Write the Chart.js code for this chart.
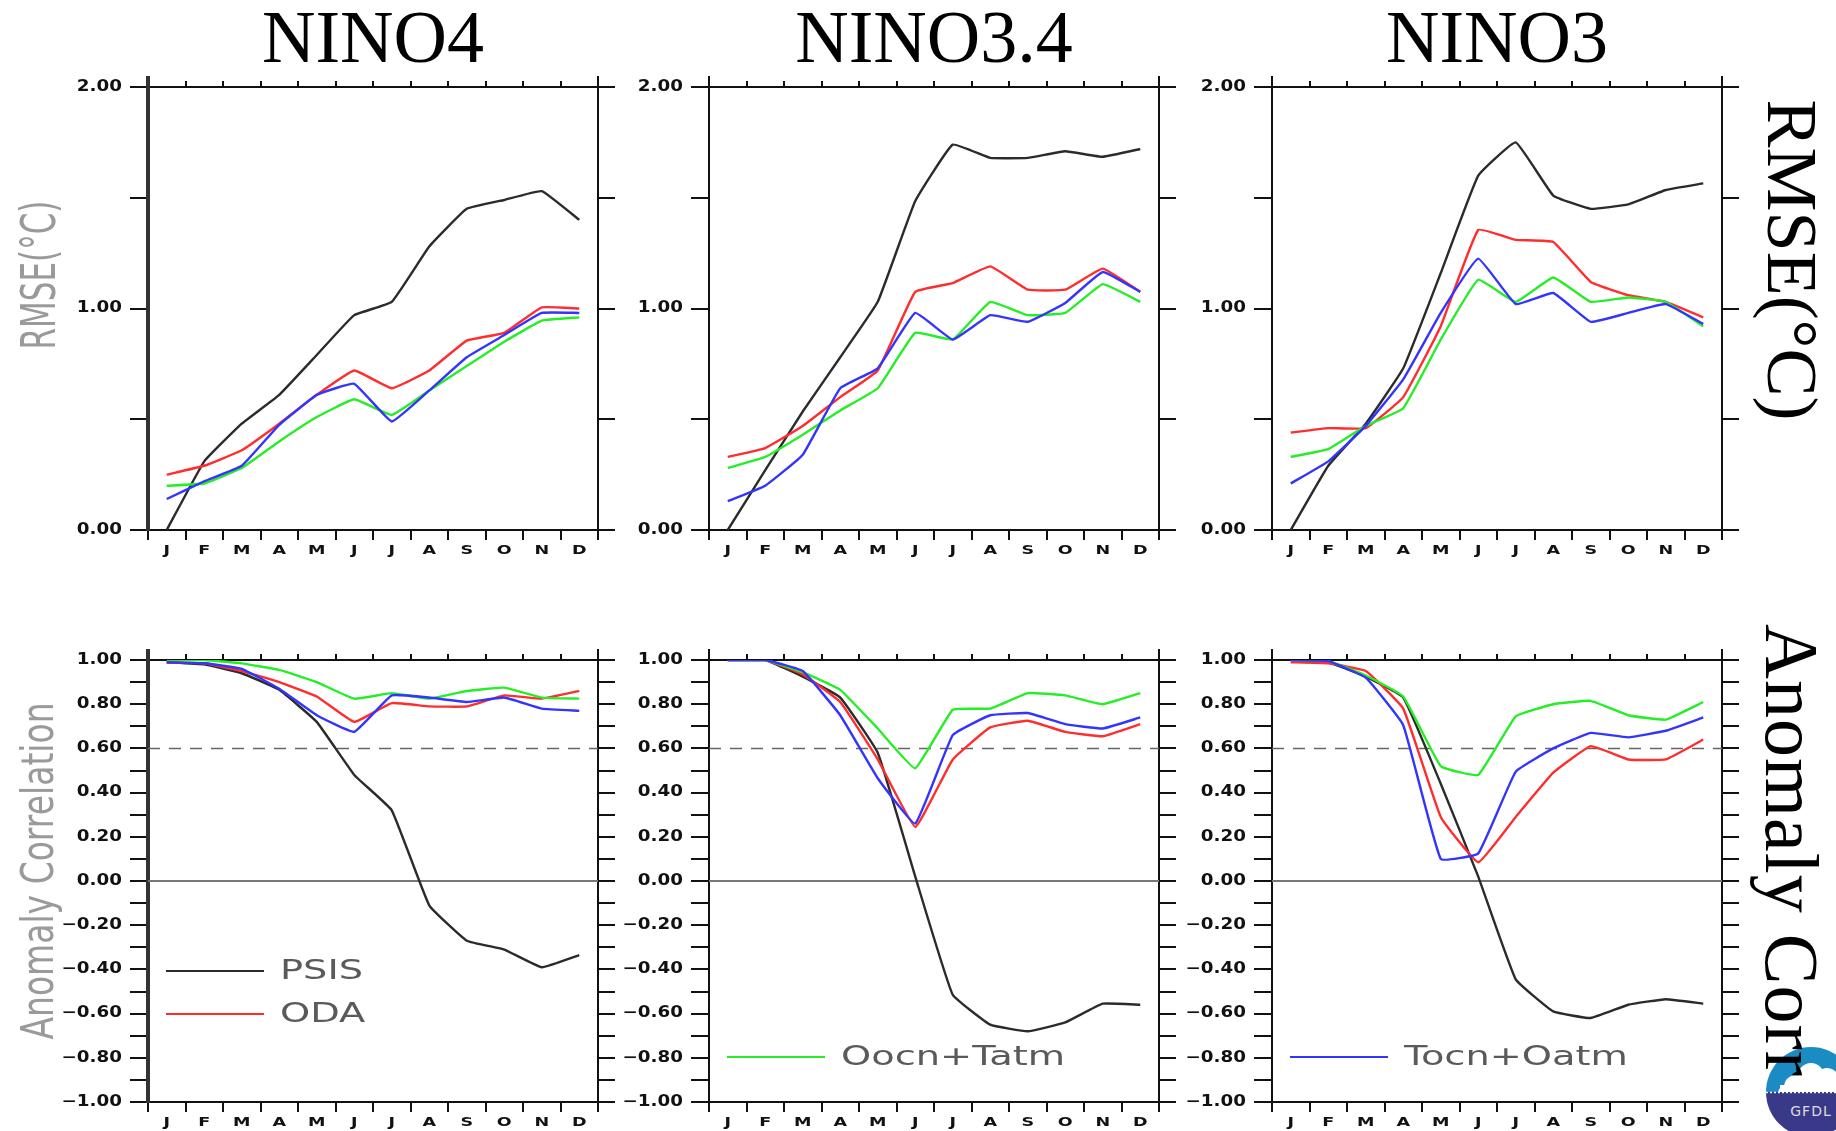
<!DOCTYPE html>
<html>
<head>
<meta charset="utf-8">
<script src="https://cdn.jsdelivr.net/npm/chart.js@4.4.1/dist/chart.umd.min.js"></script>
<style>
  html, body { margin:0; padding:0; background:#fff; }
  body { width:1836px; height:1131px; overflow:hidden; position:relative; }
  .title { position:absolute; top:0; width:600px; height:74px; line-height:74px; text-align:center;
           font-family:'Liberation Serif','Times New Roman',serif; font-size:74px; color:#000; white-space:nowrap; }
  .rlab { position:absolute; z-index:2; font-family:'Liberation Serif','Times New Roman',serif; color:#000; white-space:nowrap; }
  .ylab { position:absolute; font-family:'DejaVu Sans',sans-serif; color:#9a9a9a; white-space:nowrap; text-align:center; }
  #logo { position:absolute; left:1766px; top:1047px; z-index:1; }
</style>
</head>
<body>
<svg id="logo" width="90" height="90" viewBox="0 0 90 90">
  <defs><clipPath id="lc"><circle cx="45" cy="45" r="45"/></clipPath></defs>
  <g clip-path="url(#lc)">
    <rect x="0" y="0" width="90" height="46" fill="#1b8cc3"/>
    <g fill="#fff">
      <circle cx="30" cy="40" r="12"/>
      <circle cx="45" cy="29" r="13"/>
      <circle cx="61" cy="33" r="12"/>
      <circle cx="72" cy="42" r="8"/>
      <circle cx="19" cy="46" r="7"/>
      <rect x="14" y="38" width="66" height="8"/>
    </g>
    <rect x="0" y="45" width="90" height="45" fill="#3a3889"/>
    <line x1="0" y1="45.5" x2="90" y2="45.5" stroke="#fff" stroke-width="1.5" stroke-dasharray="2 2"/>
    <text x="45" y="69" font-family="DejaVu Sans, sans-serif" font-size="14" fill="#ddd" text-anchor="middle" letter-spacing="1">GFDL</text>
  </g>
</svg>
<script>
// ---------------- DATA ----------------
const months = ['J','F','M','A','M','J','J','A','S','O','N','D'];
const seriesNames = ['PSIS','ODA','Oocn+Tatm','Tocn+Oatm'];
const regionNames = ['NINO4','NINO3.4','NINO3'];

const rmseTickValues = [0, 1, 2];
const rmseTickLabels = ['0.00','1.00','2.00'];
const acTickValues = [1.0, 0.8, 0.6, 0.4, 0.2, 0.0, -0.2, -0.4, -0.6, -0.8, -1.0];
const acTickLabels = ['1.00','0.80','0.60','0.40','0.20','0.00','\u22120.20','\u22120.40','\u22120.60','\u22120.80','\u22121.00'];

// RMSE (°C)
const rmseNino4Psis  = [0.00,0.31,0.48,0.61,0.79,0.97,1.03,1.28,1.45,1.49,1.53,1.40];
const rmseNino4Oda   = [0.25,0.29,0.36,0.48,0.61,0.72,0.64,0.72,0.855,0.89,1.005,1.00];
const rmseNino4Oocn  = [0.20,0.21,0.28,0.40,0.51,0.59,0.52,0.63,0.74,0.85,0.945,0.96];
const rmseNino4Tocn  = [0.14,0.22,0.29,0.475,0.61,0.66,0.49,0.63,0.78,0.88,0.98,0.98];

const rmseNino34Psis = [0.00,0.27,0.535,0.78,1.03,1.485,1.74,1.68,1.68,1.71,1.685,1.72];
const rmseNino34Oda  = [0.33,0.37,0.47,0.60,0.72,1.075,1.115,1.19,1.085,1.085,1.18,1.075];
const rmseNino34Oocn = [0.28,0.33,0.43,0.54,0.64,0.89,0.86,1.03,0.97,0.98,1.11,1.03];
const rmseNino34Tocn = [0.13,0.20,0.34,0.64,0.73,0.98,0.86,0.97,0.94,1.025,1.165,1.075];

const rmseNino3Psis  = [0.00,0.29,0.48,0.73,1.16,1.60,1.75,1.51,1.45,1.47,1.535,1.565];
const rmseNino3Oda   = [0.44,0.46,0.46,0.60,0.92,1.355,1.31,1.30,1.12,1.06,1.03,0.96];
const rmseNino3Oocn  = [0.33,0.365,0.47,0.55,0.86,1.13,1.03,1.14,1.03,1.05,1.03,0.92];
const rmseNino3Tocn  = [0.21,0.31,0.47,0.68,0.98,1.225,1.02,1.07,0.94,0.98,1.02,0.93];

// Anomaly correlation
const acNino4Psis  = [0.99,0.98,0.94,0.865,0.72,0.48,0.32,-0.11,-0.27,-0.31,-0.39,-0.335];
const acNino4Oda   = [0.99,0.985,0.95,0.90,0.835,0.72,0.805,0.79,0.79,0.84,0.825,0.86];
const acNino4Oocn  = [1.00,1.00,0.985,0.955,0.90,0.825,0.85,0.825,0.86,0.875,0.83,0.825];
const acNino4Tocn  = [0.99,0.985,0.96,0.87,0.75,0.675,0.84,0.83,0.81,0.83,0.78,0.77];

const acNino34Psis = [1.00,1.00,0.925,0.83,0.58,0.02,-0.515,-0.65,-0.68,-0.64,-0.555,-0.56];
const acNino34Oda  = [1.00,1.00,0.935,0.81,0.55,0.245,0.55,0.695,0.725,0.675,0.655,0.71];
const acNino34Oocn = [1.00,1.00,0.945,0.865,0.69,0.51,0.775,0.78,0.85,0.84,0.80,0.85];
const acNino34Tocn = [1.00,1.00,0.95,0.75,0.465,0.26,0.66,0.75,0.76,0.71,0.69,0.74];

const acNino3Psis  = [1.00,0.99,0.925,0.83,0.44,0.02,-0.445,-0.59,-0.62,-0.56,-0.535,-0.555];
const acNino3Oda   = [0.99,0.985,0.95,0.78,0.29,0.085,0.29,0.49,0.61,0.55,0.55,0.64];
const acNino3Oocn  = [1.00,0.995,0.93,0.835,0.52,0.48,0.745,0.80,0.815,0.75,0.73,0.81];
const acNino3Tocn  = [1.00,0.995,0.92,0.705,0.10,0.125,0.495,0.60,0.67,0.65,0.68,0.74];

// ---------------- STYLE / LAYOUT ----------------
const seriesColors = ['#2b2b2b','#ff2d2d','#26ee26','#3434ff'];
const seriesOrder  = [3, 2, 1, 0];

const colLeft = [148, 709, 1272];
const panelW = 450;
const rowTop = [87, 660];
const rowH = [443, 442];

const panels = [
  { col:0, row:0, kind:'rmse', series:[rmseNino4Psis,rmseNino4Oda,rmseNino4Oocn,rmseNino4Tocn], legend:[] },
  { col:1, row:0, kind:'rmse', series:[rmseNino34Psis,rmseNino34Oda,rmseNino34Oocn,rmseNino34Tocn], legend:[] },
  { col:2, row:0, kind:'rmse', series:[rmseNino3Psis,rmseNino3Oda,rmseNino3Oocn,rmseNino3Tocn], legend:[] },
  { col:0, row:1, kind:'ac', series:[acNino4Psis,acNino4Oda,acNino4Oocn,acNino4Tocn], legend:[{si:0,dy:311},{si:1,dy:354}] },
  { col:1, row:1, kind:'ac', series:[acNino34Psis,acNino34Oda,acNino34Oocn,acNino34Tocn], legend:[{si:2,dy:397}] },
  { col:2, row:1, kind:'ac', series:[acNino3Psis,acNino3Oda,acNino3Oocn,acNino3Tocn], legend:[{si:3,dy:397}] },
];

function stretchedText(ctx, text, x, y, font, color, align, sx) {
  ctx.save();
  ctx.font = font; ctx.fillStyle = color;
  ctx.textAlign = align; ctx.textBaseline = 'middle';
  ctx.translate(x, y); ctx.scale(sx, 1);
  ctx.fillText(text, 0, 0);
  ctx.restore();
}

const decor = {
  id: 'decor',
  beforeDatasetsDraw(chart, args, o) {
    const { ctx, chartArea: a, scales: { y } } = chart;
    (o.refLines || []).forEach(r => {
      const py = y.getPixelForValue(r.value);
      ctx.save();
      ctx.strokeStyle = r.color; ctx.lineWidth = r.width;
      ctx.setLineDash(r.dash || []);
      ctx.beginPath(); ctx.moveTo(a.left, py); ctx.lineTo(a.right, py); ctx.stroke();
      ctx.restore();
    });
  },
  afterDraw(chart, args, o) {
    const { ctx, chartArea: a, scales: { x, y } } = chart;
    o.tickValues.forEach((v, i) => {
      stretchedText(ctx, o.tickLabels[i], a.left - 26, y.getPixelForValue(v),
        'bold 15px "DejaVu Sans", sans-serif', '#111', 'right', 1.22);
    });
    months.forEach((m, i) => {
      stretchedText(ctx, m, x.getPixelForValue(i), a.bottom + 21,
        'bold 13px "DejaVu Sans", sans-serif', '#111', 'center', 1.35);
    });
    ctx.save();
    ctx.lineWidth = o.leftWidth; ctx.strokeStyle = o.leftColor;
    ctx.beginPath(); ctx.moveTo(a.left, a.top - 11); ctx.lineTo(a.left, a.top + 1); ctx.stroke();
    ctx.lineWidth = 2; ctx.strokeStyle = '#111';
    ctx.beginPath(); ctx.moveTo(a.right, a.top - 11); ctx.lineTo(a.right, a.top + 1); ctx.stroke();
    ctx.restore();
    (o.legend || []).forEach(l => {
      const py = a.top + l.dy;
      ctx.save();
      ctx.strokeStyle = seriesColors[l.si]; ctx.lineWidth = 2;
      ctx.beginPath(); ctx.moveTo(a.left + 18, py); ctx.lineTo(a.left + 116, py); ctx.stroke();
      ctx.restore();
      stretchedText(ctx, seriesNames[l.si], a.left + 132, py + 1,
        '27px "DejaVu Sans", sans-serif', '#5a5a5a', 'left', 1.42);
    });
  }
};

panels.forEach(p => {
  const left = colLeft[p.col], top = rowTop[p.row], h = rowH[p.row];
  const W = panelW + 140, H = h + 60;
  const cv = document.createElement('canvas');
  cv.width = W; cv.height = H;
  cv.style.cssText = `position:absolute;left:${left - 110}px;top:${top - 20}px;width:${W}px;height:${H}px;`;
  document.body.appendChild(cv);
  const isR = p.kind === 'rmse';
  const yMin = isR ? 0 : -1, yMax = isR ? 2 : 1, step = isR ? 0.5 : 0.1;
  const leftWidth = p.col === 0 ? 4 : 2;
  const leftColor = p.col === 0 ? '#333' : '#111';
  new Chart(cv, {
    type: 'line',
    data: {
      labels: months,
      datasets: p.series.map((vals, i) => ({
        label: seriesNames[i], data: vals, borderColor: seriesColors[i],
        borderWidth: 2.4, pointRadius: 0, tension: 0.1, fill: false, order: seriesOrder[i]
      }))
    },
    options: {
      responsive: false, animation: false, events: [],
      layout: { padding: 0 },
      plugins: {
        legend: { display: false }, tooltip: { enabled: false },
        decor: {
          tickValues: isR ? rmseTickValues : acTickValues,
          tickLabels: isR ? rmseTickLabels : acTickLabels,
          refLines: isR ? [] : [
            { value: 0.0, color: '#777', width: 2 },
            { value: 0.6, color: '#666', width: 1.5, dash: [12, 9] }
          ],
          legend: p.legend, leftWidth, leftColor
        }
      },
      scales: {
        x: {
          type: 'category', position: 'bottom', offset: true,
          grid: { offset: true, drawOnChartArea: false, drawTicks: true, tickLength: 10, color: '#111', lineWidth: 2 },
          border: { display: true, color: '#111', width: 2 },
          ticks: { display: false },
          afterFit: s => { s.height = 40; }
        },
        x2: {
          type: 'category', position: 'top', labels: months, offset: true,
          grid: { offset: true, drawOnChartArea: false, drawTicks: true, tickLength: 6, color: '#111', lineWidth: 2 },
          border: { display: true, color: '#111', width: 2 },
          ticks: { display: false },
          afterFit: s => { s.height = 20; }
        },
        y: {
          type: 'linear', position: 'left', min: yMin, max: yMax,
          ticks: { display: false, stepSize: step },
          grid: { drawOnChartArea: false, drawTicks: true, tickLength: 18, color: '#111', lineWidth: 2 },
          border: { display: true, color: leftColor, width: leftWidth },
          afterFit: s => { s.width = 110; }
        },
        y2: {
          type: 'linear', position: 'right', min: yMin, max: yMax,
          ticks: { display: false, stepSize: step },
          grid: { drawOnChartArea: false, drawTicks: true, tickLength: 17, color: '#111', lineWidth: 2 },
          border: { display: true, color: '#111', width: 2 },
          afterFit: s => { s.width = 30; }
        }
      }
    },
    plugins: [decor]
  });
});

regionNames.forEach((t, i) => {
  const d = document.createElement('div');
  d.className = 'title';
  d.style.left = (colLeft[i] + panelW / 2 - 300) + 'px';
  d.textContent = t;
  document.body.appendChild(d);
});

function addLabel(cls, text, cx, cy, w, h, fontSize, transform, align, extra) {
  const d = document.createElement('div');
  d.className = cls;
  d.style.cssText += `left:${cx - w / 2}px;top:${cy - h / 2}px;width:${w}px;height:${h}px;line-height:${h}px;font-size:${fontSize}px;transform:${transform};text-align:${align};` + (extra || '');
  d.textContent = text;
  document.body.appendChild(d);
}
addLabel('ylab', 'RMSE(\u00B0C)', 38, 275, 300, 40, 31, 'rotate(-90deg) scaleY(1.55)', 'center');
addLabel('ylab', 'Anomaly Correlation', 38, 871, 420, 40, 33, 'rotate(-90deg) scaleY(1.35)', 'center');
addLabel('rlab', 'RMSE(\u00B0C)', 1792, 260, 400, 72, 72, 'rotate(90deg)', 'center');
addLabel('rlab', 'Anomaly Corr', 1792, 884, 520, 76, 76, 'rotate(90deg)', 'left', 'letter-spacing:1px;');
</script>
</body>
</html>
